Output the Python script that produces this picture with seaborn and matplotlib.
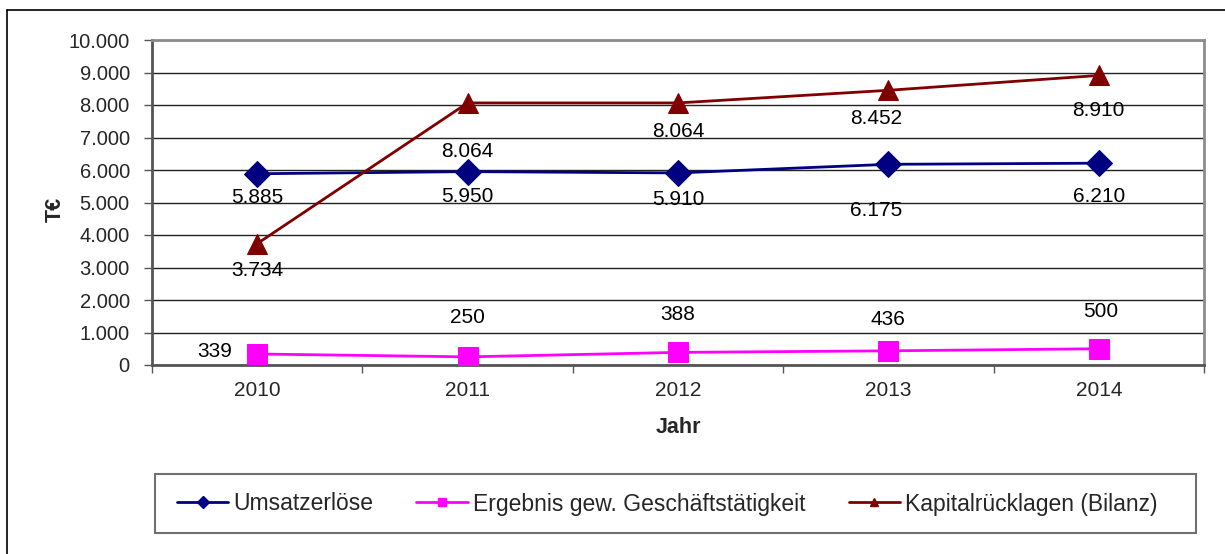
import matplotlib
matplotlib.use("Agg")
import matplotlib.pyplot as plt
import matplotlib.ticker as mticker
from matplotlib.lines import Line2D
from matplotlib.patches import Rectangle
import pandas as pd
import seaborn as sns

# data
years = ["2010", "2011", "2012", "2013", "2014"]
umsatz = [5885, 5950, 5910, 6175, 6210]
ergebnis = [339, 250, 388, 436, 500]
kapital = [3734, 8064, 8064, 8452, 8910]

# label offsets in pixels (dx, dy) relative to each marker
umsatz_off = [(0, -24), (0, -25), (0, -27), (-12, -46), (0, -33)]
ergebnis_off = [(-43, 2), (0, 39), (0, 38), (0, 31), (2, 37)]
kapital_off = [(0, -27), (0, -49), (0, -29), (-12, -28), (0, -35)]


def de_fmt(v):
    return f"{int(v):,}".replace(",", ".")


sns.set_style("white")
plt.rcParams["font.family"] = ["Liberation Sans", "DejaVu Sans"]

fig = plt.figure(figsize=(12.25, 5.54), dpi=100)
W, H = 1225, 554
ax = fig.add_axes([152 / W, 1 - 365 / H, (1204 - 152) / W, (365 - 40) / H])

series = [
    ("Umsatzerlöse", umsatz, "#000080", "D", 13, umsatz_off),
    ("Ergebnis gew. Geschäftstätigkeit", ergebnis, "#FF00FF", "s", 14, ergebnis_off),
    ("Kapitalrücklagen (Bilanz)", kapital, "#800000", "^", 14, kapital_off),
]

for name, vals, col, mk, ms, offs in series:
    df = pd.DataFrame({"Jahr": years, "Wert": vals})
    sns.lineplot(data=df, x="Jahr", y="Wert", ax=ax, color=col, marker=mk,
                 markersize=ms, markeredgecolor=col, linewidth=2, label=name,
                 legend=False, zorder=3)
    for i, v in enumerate(vals):
        ax.annotate(de_fmt(v), (i, v), xytext=offs[i], textcoords="offset pixels",
                    ha="center", va="center", fontsize=15, color="black")

ax.set_xlim(-0.5, 4.5)
ax.set_ylim(0, 10000)
ax.yaxis.set_major_locator(mticker.MultipleLocator(1000))
ax.yaxis.set_major_formatter(mticker.FuncFormatter(lambda v, p: de_fmt(v)))
ax.grid(axis="y", color="#222222", linewidth=1)
ax.set_axisbelow(True)

for s in ax.spines.values():
    s.set_visible(True)
    s.set_color("#8c8c8c")
    s.set_linewidth(2)
ax.spines["left"].set_color("#555555")
ax.spines["bottom"].set_color("#555555")

# y ticks outward on the left, x ticks between categories
ax.tick_params(axis="y", which="major", left=True, direction="out", length=6,
               width=1, color="#555555", labelsize=14.5, pad=10)
ax.set_xticks(range(len(years)))
ax.set_xticklabels(years)
ax.tick_params(axis="x", which="major", bottom=False, labelsize=15, pad=8)
ax.set_xticks([i - 0.5 for i in range(len(years) + 1)], minor=True)
ax.tick_params(axis="x", which="minor", bottom=True, direction="out", length=6,
               width=1, color="#555555")

ax.set_xlabel("Jahr", fontsize=15.5, fontweight="bold", labelpad=12)
ax.set_ylabel("T€", fontsize=15.5, fontweight="bold")
ax.yaxis.set_label_coords(-0.082, 0.48)

# legend box
fig.patches.append(Rectangle((155 / W, 1 - 533 / H), (1196 - 155) / W, (533 - 474) / H,
                             transform=fig.transFigure, fill=False,
                             edgecolor="#707070", linewidth=1.5))
handles = [Line2D([0], [0], color=c, marker=m, markersize=6, linewidth=2,
                  markeredgecolor=c) for _, _, c, m, ms, _ in series]
fig.legend(handles, [s[0] for s in series], loc="center",
           bbox_to_anchor=(667 / W, 1 - 504 / H), ncol=3, frameon=False,
           fontsize=16.5, handlelength=2.25, handletextpad=0.2, columnspacing=1.9)

# outer chart frame (top and left edges visible)
fig.lines.append(Line2D([7 / W, 1], [1 - 10 / H, 1 - 10 / H], transform=fig.transFigure,
                        color="black", linewidth=1.2))
fig.lines.append(Line2D([7 / W, 7 / W], [0, 1 - 10 / H], transform=fig.transFigure,
                        color="black", linewidth=1.2))

fig.savefig("out.png", dpi=100)
